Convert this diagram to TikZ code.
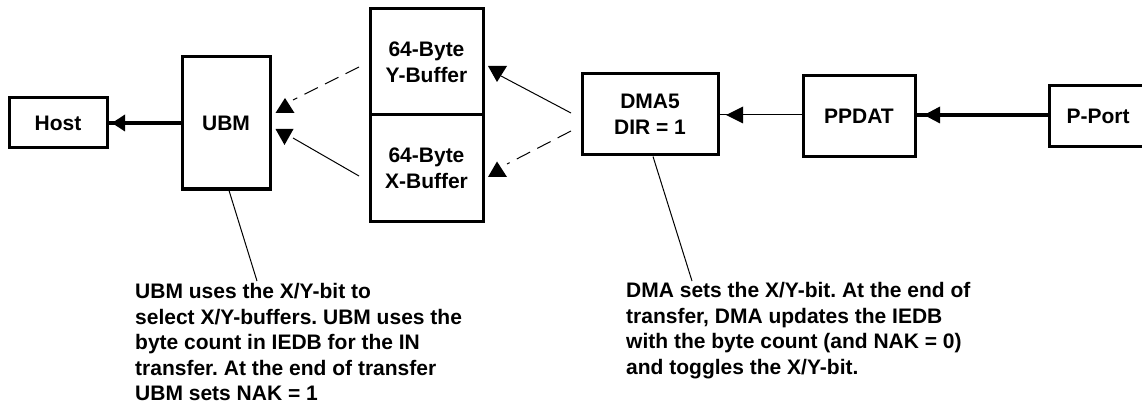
\documentclass[tikz,border=0pt]{standalone}
\usepackage{fontspec}
\setmainfont{Liberation Sans}
\usetikzlibrary{arrows.meta}
\frenchspacing
\tikzset{
  box/.style={draw, line width=3pt, inner sep=0pt, align=center,
    font=\fontsize{21}{26}\selectfont\bfseries},
  thickarr/.style={line width=3.5pt},
  thinarr/.style={line width=1pt},
  note/.style={anchor=north west, inner sep=0pt, align=left,
    font=\fontsize{21}{25.6}\selectfont\bfseries\frenchspacing},
  dashline/.style={line width=1pt, dash pattern=on 15pt off 8pt},
  head/.style={fill=black}
}
\begin{document}
\begin{tikzpicture}[x=1pt,y=-1pt]
\useasboundingbox (0,0) rectangle (1142,406);
\clip (0,0) rectangle (1142,406);
% boxes
\node[box, minimum width=98pt, minimum height=50pt] (host) at (58,123) {Host};
\node[box, minimum width=88pt, minimum height=132pt] (ubm) at (226,123) {UBM};
\node[box, minimum width=113pt, minimum height=106pt] (ybuf) at (426.5,62) {64-Byte\\Y-Buffer};
\node[box, minimum width=113pt, minimum height=106pt] (xbuf) at (426.5,168) {64-Byte\\X-Buffer};
\node[box, minimum width=136pt, minimum height=81pt] (dma) at (650,114.5) {DMA5\\DIR = 1};
\node[box, minimum width=112pt, minimum height=81pt] (ppdat) at (859,116) {PPDAT};
\node[box, minimum width=98pt, minimum height=61pt] (pport) at (1098,116) {P-Port};
% horizontal connectors
\draw[thickarr] (ubm.west |- 0,123) -- (host.east |- 0,123);
\fill[head] (112,123) -- (125,114.5) -- (125,131.5) -- cycle;
\draw[thinarr] (ppdat.west |- 0,115) -- (dma.east |- 0,115);
\fill[head] (726,115) -- (743,106.5) -- (743,123.5) -- cycle;
\draw[thickarr] (pport.west |- 0,115) -- (ppdat.east |- 0,115);
\fill[head] (924,115) -- (940,106.5) -- (940,123.5) -- cycle;
% buffer <-> UBM connectors
\coordinate (yb-from) at (359,67);
\coordinate (yb-to) at (293,100);
\coordinate (xb-from) at (359,176);
\coordinate (xb-to) at (293,138);
\draw[dashline] (yb-from) -- (yb-to);
\draw[thinarr] (xb-from) -- (xb-to);
\fill[head] (285,98) -- (294.5,113) -- (275.5,113) -- cycle;
\fill[head] (275.5,129) -- (293.5,129) -- (284.5,145) -- cycle;
% DMA <-> buffer connectors
\coordinate (dy-from) at (571,113);
\coordinate (dy-to) at (501,76);
\coordinate (dx-from) at (571,131);
\coordinate (dx-to) at (507,164);
\draw[thinarr] (dy-from) -- (dy-to);
\draw[dashline] (dx-from) -- (dx-to);
\fill[head] (488,66) -- (507,66) -- (497,82) -- cycle;
\fill[head] (497,161.5) -- (507,177) -- (488,177) -- cycle;
% notes
\node[note] (ubmnote) at (135,283) {UBM uses the X/Y-bit to\\select X/Y-buffers. UBM uses the\\byte count in IEDB for the IN\\transfer. At the end of transfer\\UBM sets NAK = 1};
\node[note] (dmanote) at (626,282) {DMA sets the X/Y-bit. At the end of\\transfer, DMA updates the IEDB\\with the byte count (and NAK = 0)\\and toggles the X/Y-bit.};
\draw[thinarr] (ubm.south -| 229,0) -- (257,281);
\draw[thinarr] (dma.south -| 653,0) -- (692,281);
\end{tikzpicture}
\end{document}
